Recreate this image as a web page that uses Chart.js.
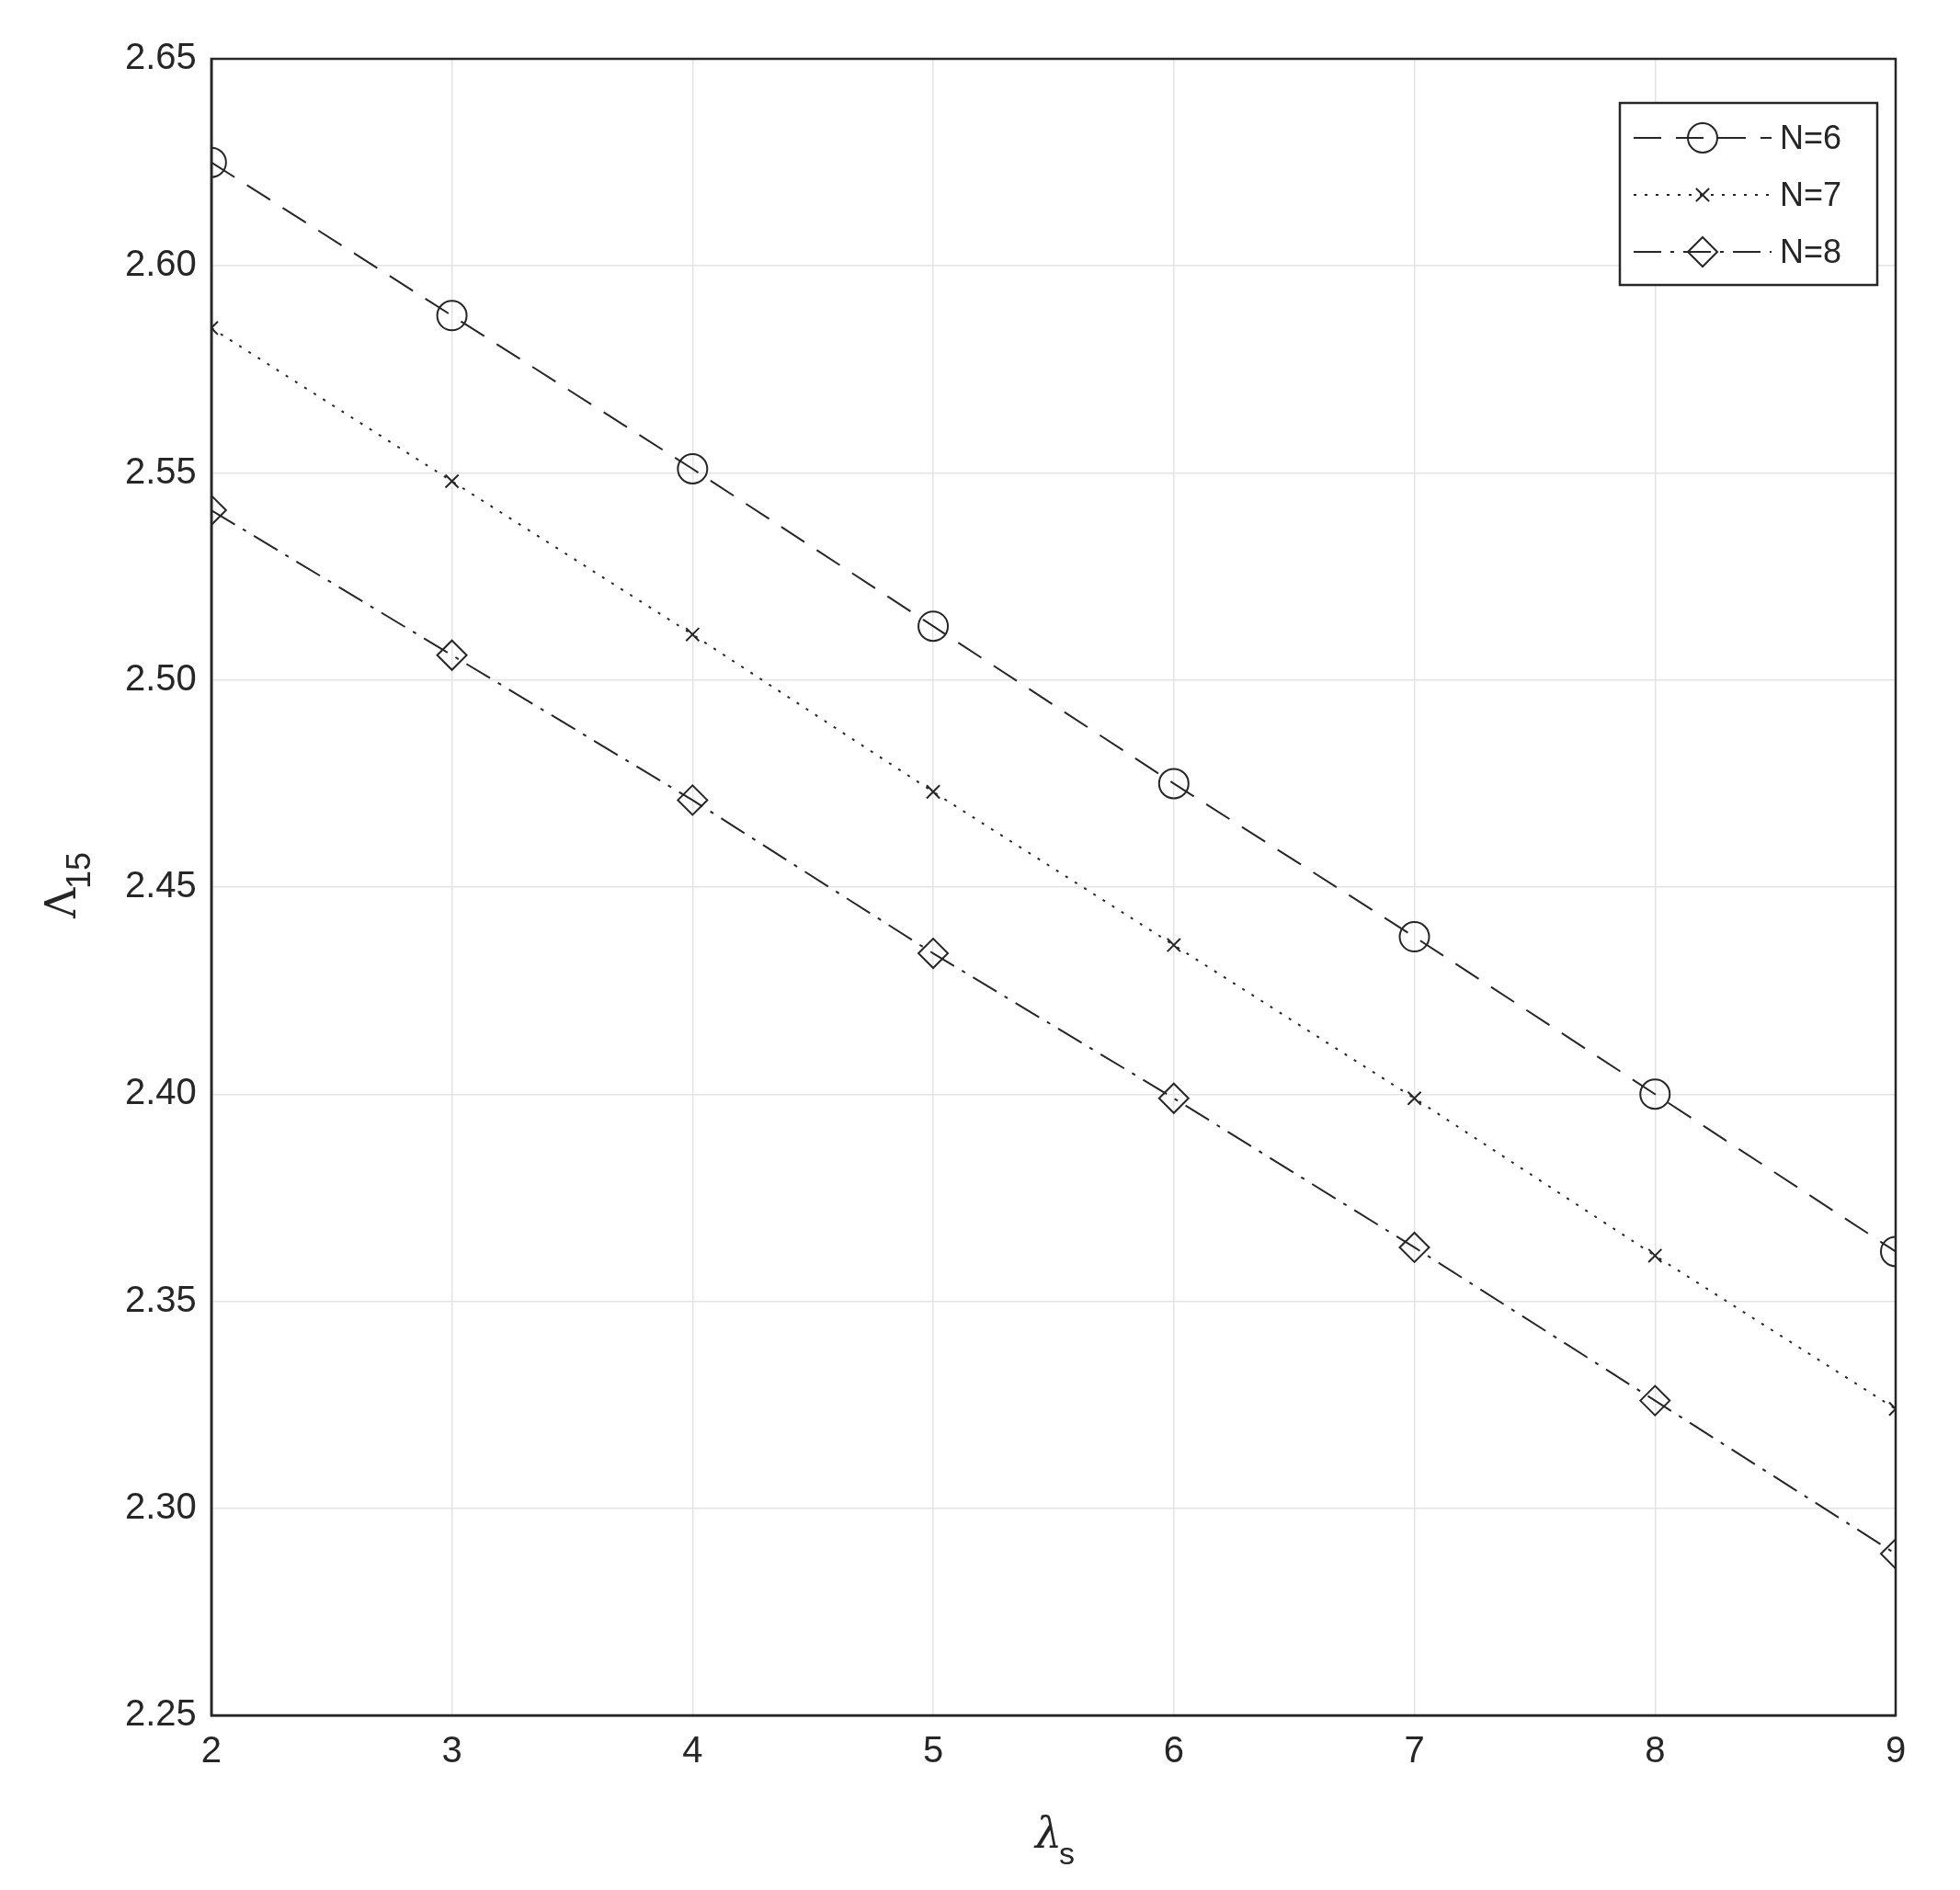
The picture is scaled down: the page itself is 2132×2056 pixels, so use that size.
<!DOCTYPE html>
<html><head><meta charset="utf-8">
<script src="https://cdn.jsdelivr.net/npm/chart.js@4"></script>
<style>html,body{margin:0;background:#fff}#wrap{width:2132px;height:2056px}</style>
</head><body><div id="wrap"><canvas id="c"></canvas></div>
<script>
const xs = [2, 3, 4, 5, 6, 7, 8, 9];
const n6 = [2.625, 2.588, 2.551, 2.513, 2.475, 2.438, 2.400, 2.362];
const n7 = [2.585, 2.548, 2.511, 2.473, 2.436, 2.399, 2.361, 2.324];
const n8 = [2.541, 2.506, 2.471, 2.434, 2.399, 2.363, 2.326, 2.289];
const yTicks = [2.25, 2.30, 2.35, 2.40, 2.45, 2.50, 2.55, 2.60, 2.65];
const labels = ['N=6', 'N=7', 'N=8'];

const INK = '#262626';
const FONT = "'Liberation Sans', Arial, sans-serif";
const pts = ys => xs.map((x, i) => ({ x, y: ys[i] }));

const series = [
  { data: n6, dash: [30, 16], style: 'circle', r: 16 },
  { data: n7, dash: [3, 9], style: 'crossRot', r: 10 },
  { data: n8, dash: [30, 10, 4, 10], style: 'rectRot', r: 16 },
];

// legend box + subscripted axis titles
const extras = {
  id: 'extras',
  afterDraw(chart) {
    const { ctx, chartArea: a } = chart;
    ctx.save();
    ctx.fillStyle = INK;
    ctx.font = `italic 46px 'DejaVu Serif', serif`;
    ctx.textAlign = 'left'; ctx.textBaseline = 'alphabetic';
    const cx = (a.left + a.right) / 2;
    ctx.fillText('λ', cx - 20, 2010);
    ctx.font = `34px ${FONT}`;
    ctx.fillText('s', cx + 6, 2028);
    ctx.translate(82, (a.top + a.bottom) / 2);
    ctx.rotate(-Math.PI / 2);
    ctx.font = `46px 'DejaVu Serif', serif`;
    ctx.fillText('Λ', -34, 0);
    ctx.font = `36px ${FONT}`;
    ctx.fillText('15', -2, 16);
    ctx.restore();

    // legend
    const bx = 1762, by = 112, bw = 280, bh = 198;
    ctx.save();
    ctx.fillStyle = '#fff';
    ctx.fillRect(bx, by, bw, bh);
    ctx.strokeStyle = INK; ctx.lineWidth = 2.5;
    ctx.strokeRect(bx, by, bw, bh);
    series.forEach((s, i) => {
      const y = by + 38 + i * 62;
      ctx.strokeStyle = INK; ctx.lineWidth = 2;
      ctx.setLineDash(s.dash);
      ctx.beginPath(); ctx.moveTo(bx + 15, y); ctx.lineTo(bx + 165, y); ctx.stroke();
      ctx.setLineDash([]);
      ctx.fillStyle = 'rgba(0,0,0,0)';
      Chart.helpers.drawPoint(ctx, { pointStyle: s.style, radius: s.r, borderWidth: 2 }, bx + 90, y);
      ctx.fillStyle = INK;
      ctx.font = `36px ${FONT}`;
      ctx.textBaseline = 'middle';
      ctx.fillText(labels[i], bx + 174, y + 2);
    });
    ctx.restore();
  }
};

new Chart(document.getElementById('c'), {
  type: 'line',
  data: {
    datasets: series.map((s, i) => ({
      label: labels[i],
      data: pts(s.data),
      borderColor: INK,
      backgroundColor: 'transparent',
      borderWidth: 2,
      borderDash: s.dash,
      pointStyle: s.style,
      pointRadius: s.r,
      pointBorderColor: INK,
      pointBackgroundColor: 'transparent',
      pointBorderWidth: 2,
      tension: 0,
    }))
  },
  options: {
    responsive: true,
    maintainAspectRatio: false,
    animation: false,
    layout: { padding: { left: 120, right: 70, top: 64, bottom: 110 } },
    plugins: { legend: { display: false }, tooltip: { enabled: false } },
    scales: {
      x: {
        type: 'linear', min: 2, max: 9,
        ticks: { stepSize: 1, color: INK, font: { size: 40, family: FONT }, padding: 16 },
        grid: { color: '#e3e3e3', lineWidth: 1.5, tickLength: 0 },
        border: { color: INK, width: 2.5 },
      },
      y: {
        min: 2.25, max: 2.65,
        afterBuildTicks: ax => { ax.ticks = yTicks.map(v => ({ value: v })); },
        ticks: { color: INK, font: { size: 40, family: FONT }, padding: 16,
                 callback: v => v.toFixed(2) },
        grid: { color: '#e3e3e3', lineWidth: 1.5, tickLength: 0 },
        border: { color: INK, width: 2.5 },
      }
    }
  },
  plugins: [extras, {
    id: 'frame',
    afterDatasetsDraw(chart) {
      const { ctx, chartArea: a } = chart;
      ctx.save();
      ctx.strokeStyle = INK; ctx.lineWidth = 2.5;
      ctx.strokeRect(a.left, a.top, a.right - a.left, a.bottom - a.top);
      ctx.restore();
    }
  }]
});
</script></body></html>
